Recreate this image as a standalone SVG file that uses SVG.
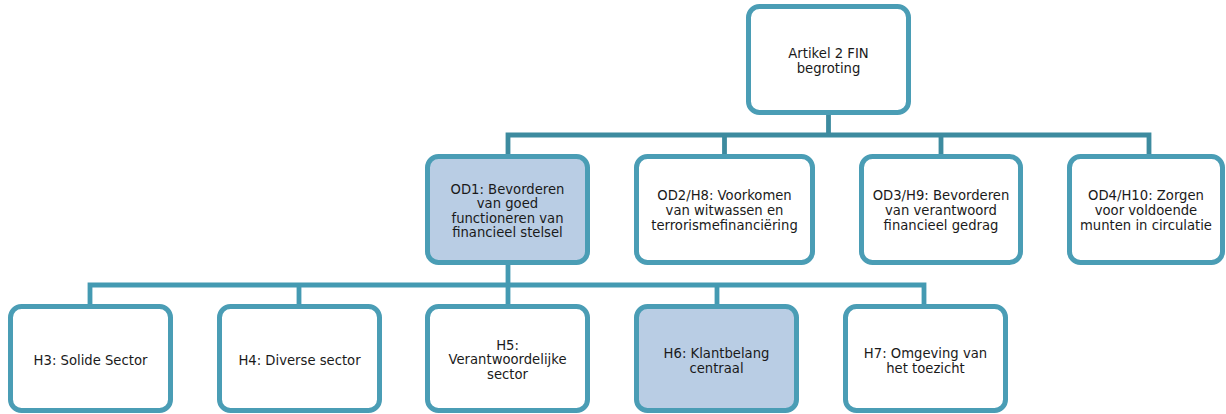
<svg xmlns="http://www.w3.org/2000/svg" width="1226" height="414" viewBox="0 0 1226 414">
<style>
.box{fill:#ffffff;stroke:#4a9db5;stroke-width:5}
.hl{fill:#b9cde4}
.c1{fill:none;stroke:#3d8b9f;stroke-width:4.8;stroke-linejoin:miter}
.c2{fill:none;stroke:#449ab2;stroke-width:4.8;stroke-linejoin:miter}
text{font-family:"DejaVu Sans","Verdana",sans-serif;font-size:13.2px;fill:#1a1a1a;text-anchor:middle}
</style>
<rect width="1226" height="414" fill="#ffffff"/>
<g id="connectors">
<path class="c1" d="M828.5,114 V135 M508,156 V135 H1149 V156 M724.5,135 V156 M941,135 V156"/>
<path class="c2" d="M508,264 V285 M90,305 V285 H924 V305 M299,285 V305 M508,285 V305 M717,285 V305"/>
</g>
<g id="n_top">
<rect class="box" x="748.5" y="6.5" width="160" height="106" rx="11"/>
<text x="828.5" y="57.5">Artikel 2 FIN</text>
<text x="828.5" y="72.5">begroting</text>
</g>
<g id="n_od1">
<rect class="box hl" x="427.5" y="156.5" width="160" height="106" rx="11"/>
<text x="507.5" y="194">OD1: Bevorderen</text>
<text x="507.5" y="208.3">van goed</text>
<text x="507.5" y="222.6">functioneren van</text>
<text x="507.5" y="236.9">financieel stelsel</text>
</g>
<g id="n_od2">
<rect class="box" x="636.5" y="156.5" width="176" height="106" rx="11"/>
<text x="724.5" y="199.5">OD2/H8: Voorkomen</text>
<text x="724.5" y="214.5">van witwassen en</text>
<text x="724.5" y="229.5">terrorismefinanciëring</text>
</g>
<g id="n_od3">
<rect class="box" x="861.5" y="156.5" width="159" height="106" rx="11"/>
<text x="941" y="199.5">OD3/H9: Bevorderen</text>
<text x="941" y="214.5">van verantwoord</text>
<text x="941" y="229.5">financieel gedrag</text>
</g>
<g id="n_od4">
<rect class="box" x="1069.5" y="156.5" width="153" height="106" rx="11"/>
<text x="1146" y="199.5">OD4/H10: Zorgen</text>
<text x="1146" y="214.5">voor voldoende</text>
<text x="1146" y="229.5">munten in circulatie</text>
</g>
<g id="n_h3">
<rect class="box" x="10.5" y="306.5" width="160" height="104" rx="11"/>
<text x="90.5" y="365">H3: Solide Sector</text>
</g>
<g id="n_h4">
<rect class="box" x="219.5" y="306.5" width="160" height="104" rx="11"/>
<text x="299.5" y="365">H4: Diverse sector</text>
</g>
<g id="n_h5">
<rect class="box" x="427.5" y="306.5" width="160" height="104" rx="11"/>
<text x="507.5" y="350">H5:</text>
<text x="507.5" y="364.3">Verantwoordelijke</text>
<text x="507.5" y="378.6">sector</text>
</g>
<g id="n_h6">
<rect class="box hl" x="636.5" y="306.5" width="160" height="104" rx="11"/>
<text x="716.5" y="358.3">H6: Klantbelang</text>
<text x="716.5" y="372.5">centraal</text>
</g>
<g id="n_h7">
<rect class="box" x="845.5" y="306.5" width="160" height="104" rx="11"/>
<text x="925.5" y="358.3">H7: Omgeving van</text>
<text x="925.5" y="372.5">het toezicht</text>
</g>
</svg>
